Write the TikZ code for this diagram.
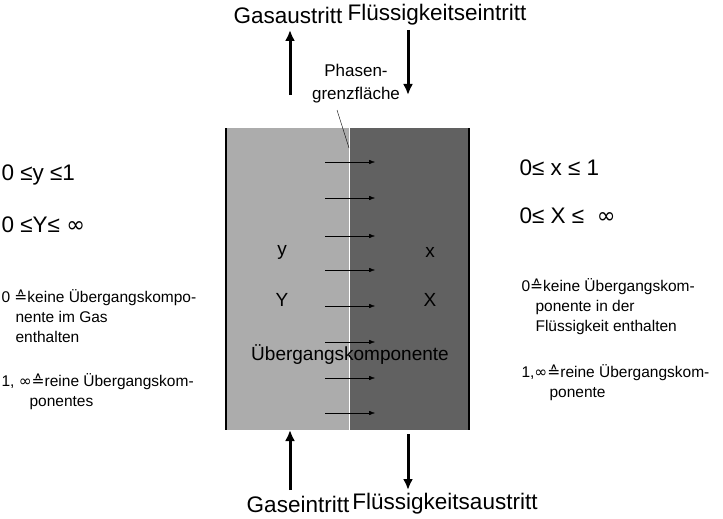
\documentclass[tikz,border=0pt]{standalone}
\usepackage{fontspec}
\setmainfont{Liberation Sans}
\newfontfamily\symf{DejaVu Sans}
\newcommand{\corr}{{\symf\char"2259}}
\newcommand{\infy}{{\symf ∞}}
\begin{document}
\begin{tikzpicture}[x=1pt,y=-1pt,
  big/.style={font=\fontsize{22.5}{24}\selectfont},
  mid/.style={font=\fontsize{19}{23}\selectfont},
  small/.style={font=\fontsize{15.5}{20}\selectfont,align=left},
  flow/.style={line width=3pt,-{Latex[length=11pt,width=10pt]}},
  tr/.style={thin,-{Latex[length=6pt,width=4.5pt]}}]
\usetikzlibrary{arrows.meta}
\useasboundingbox (0,0) rectangle (723,519);
\fill[gray!65] (226,128) rectangle (349,430);
\fill[black!62] (349,128) rectangle (469,430);
\draw[white,line width=1pt] (349,128) -- (349,430);
\draw[line width=2.5pt] (226,128) -- (226,430);
\draw[line width=2.5pt] (469,128) -- (469,430);
\foreach \yy in {162,198,236,270,306,342,378,413}
  \draw[tr] (325,\yy) -- (375,\yy);
\node[big] (ga) at (288,15) {Gasaustritt};
\node[big] (fe) at (437,15) {Flüssigkeitseintritt};
\node[big] (ge) at (298,504) {Gaseintritt};
\node[big] (fa) at (445,504) {Flüssigkeitsaustritt};
\coordinate (a1) at (290,95); \coordinate (a2) at (290,30);
\draw[flow] (a1) -- (a2);
\coordinate (b1) at (408,30); \coordinate (b2) at (408,95);
\draw[flow] (b1) -- (b2);
\coordinate (c1) at (290,490); \coordinate (c2) at (290,430);
\draw[flow] (c1) -- (c2);
\coordinate (d1) at (408,434); \coordinate (d2) at (408,490);
\draw[flow] (d1) -- (d2);
\node[font=\fontsize{17}{23}\selectfont,align=center] (pg) at (356,84) {Phasen-\\grenzfläche};
\coordinate (pe) at (349,148);
\draw[thin] (337,110) -- (pe);
\node[mid] (y) at (282,252) {y};
\node[mid] (x) at (430,252) {x};
\node[mid] (Y) at (282,300) {Y};
\node[mid] (X) at (430,300) {X};
\node[mid] (ue) at (350,355) {Übergangskomponente};
\node[big,anchor=west] (l1) at (-2,175) {0 ≤y ≤1};
\node[big,anchor=west] (l2) at (-2,225) {0 ≤Y≤ \infy};
\node[small,anchor=north west] (l3) at (-2,286) {0 \corr keine Übergangskompo-\\\hspace*{14pt}nente im Gas\\\hspace*{14pt}enthalten};
\node[small,anchor=north west] (l4) at (-2,370) {1, \infy\corr reine Übergangskom-\\\hspace*{28pt}ponentes};
\node[big,anchor=west] (r1) at (516,168) {0≤ x ≤ 1};
\node[big,anchor=west] (r2) at (516,216) {0≤ X ≤ \ \infy};
\node[small,anchor=north west] (r3) at (518,275) {0\corr keine Übergangskom-\\\hspace*{14pt}ponente in der\\\hspace*{14pt}Flüssigkeit enthalten};
\node[small,anchor=north west] (r4) at (518,361) {1,\infy\corr reine Übergangskom-\\\hspace*{28pt}ponente};
\end{tikzpicture}
\end{document}
